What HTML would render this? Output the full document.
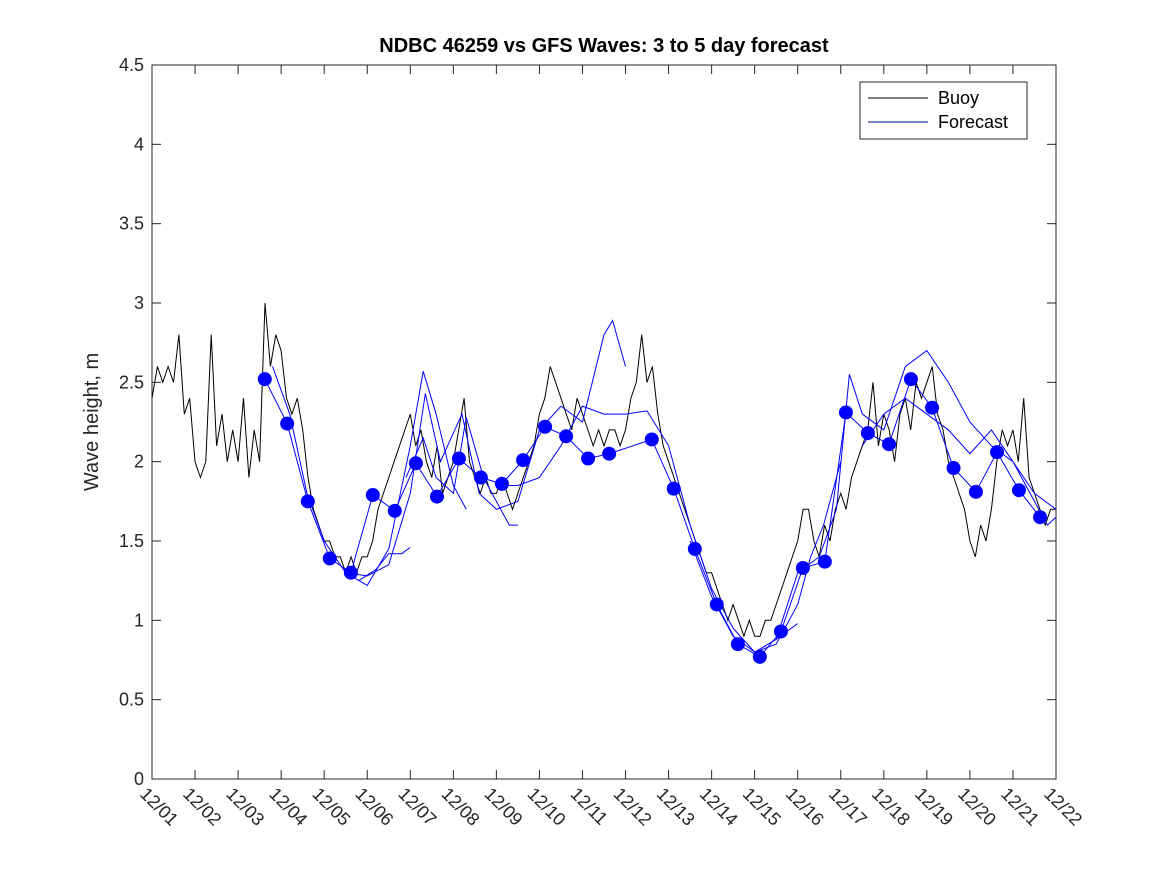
<!DOCTYPE html>
<html><head><meta charset="utf-8"><style>
body{margin:0;background:#fff;width:1167px;height:875px;overflow:hidden;font-family:"Liberation Sans",sans-serif}
svg{display:block}
</style></head><body>
<svg id="c" width="1167" height="875"></svg>
<script>
const dayLabels=["12/01","12/02","12/03","12/04","12/05","12/06","12/07","12/08","12/09","12/10","12/11","12/12","12/13","12/14","12/15","12/16","12/17","12/18","12/19","12/20","12/21","12/22"];
const yTicks=[0,0.5,1,1.5,2,2.5,3,3.5,4,4.5];
// buoy at 0.125-day (3h) steps, 169 values
const buoy=[
2.4,2.6,2.5,2.6,2.5,2.8,2.3,2.4,
2.0,1.9,2.0,2.8,2.1,2.3,2.0,2.2,
2.0,2.4,1.9,2.2,2.0,3.0,2.6,2.8,
2.7,2.4,2.3,2.4,2.2,1.9,1.7,1.6,
1.5,1.5,1.4,1.4,1.3,1.4,1.3,1.4,
1.4,1.5,1.7,1.8,1.9,2.0,2.1,2.2,
2.3,2.1,2.2,2.0,1.9,2.1,1.8,1.9,
2.0,2.2,2.4,2.0,1.9,1.8,1.9,1.8,
1.8,1.9,1.8,1.7,1.8,1.9,2.0,2.1,
2.3,2.4,2.6,2.5,2.4,2.3,2.2,2.4,
2.3,2.2,2.1,2.2,2.1,2.2,2.2,2.1,
2.2,2.4,2.5,2.8,2.5,2.6,2.3,2.1,
2.0,1.9,1.8,1.7,1.6,1.5,1.4,1.3,
1.3,1.2,1.1,1.0,1.1,1.0,0.9,1.0,
0.9,0.9,1.0,1.0,1.1,1.2,1.3,1.4,
1.5,1.7,1.7,1.5,1.4,1.6,1.5,1.7,
1.8,1.7,1.9,2.0,2.1,2.2,2.5,2.1,
2.3,2.2,2.0,2.3,2.4,2.2,2.5,2.4,
2.5,2.6,2.3,2.2,2.0,1.9,1.8,1.7,
1.5,1.4,1.6,1.5,1.7,2.0,2.2,2.1,
2.2,2.0,2.4,1.9,1.8,1.7,1.6,1.7,
1.7];
const dotDays=[2.62,3.14,3.62,4.13,4.62,5.13,5.64,6.13,6.62,7.13,7.64,8.13,8.62,9.13,9.62,10.13,10.62,11.61,12.12,12.61,13.12,13.61,14.12,14.61,15.12,15.63,16.12,16.63,17.12,17.63,18.12,18.62,19.14,19.63,20.14,20.63];
const dotVals=[2.52,2.24,1.75,1.39,1.30,1.79,1.69,1.99,1.78,2.02,1.90,1.86,2.01,2.22,2.16,2.02,2.05,2.14,1.83,1.45,1.10,0.85,0.77,0.93,1.33,1.37,2.31,2.18,2.11,2.52,2.34,1.96,1.81,2.06,1.82,1.65];
const runB=[[2.8,2.6],[3.2,2.3],[3.6,1.8],[4.0,1.5],[4.5,1.3],[5.0,1.22],[5.5,1.45],[6.0,2.1],[6.3,2.57],[6.6,2.3],[7.0,1.85],[7.3,1.7]];
const runC=[[4.5,1.3],[5.0,1.28],[5.5,1.35],[6.0,1.8],[6.35,2.43],[6.7,2.0],[7.2,2.3],[7.6,1.8],[8.0,1.7],[8.5,1.75],[9.0,2.2],[9.5,2.35],[10.0,2.25],[10.5,2.8],[10.7,2.89],[11.0,2.6]];
const runD=[[4.8,1.25],[5.2,1.32],[5.5,1.42],[5.8,1.42],[6.0,1.46]];
const runE=[[5.9,1.9],[6.3,2.15],[6.6,1.9],[7.0,1.8],[7.3,2.28],[7.7,1.9],[8.0,1.75],[8.3,1.6],[8.5,1.6]];
const runF=[[8.0,1.85],[8.5,1.85],[9.0,1.9],[9.5,2.1],[10.0,2.35],[10.5,2.3],[11.0,2.3],[11.5,2.32],[12.0,2.1],[12.5,1.6],[13,1.2],[13.5,0.95],[14,0.8],[14.5,0.85],[15.0,1.1],[15.3,1.4],[15.6,1.6],[16.0,2.0]];
const runG=[[12.5,1.5],[13,1.15],[13.5,0.9],[14,0.8],[14.5,0.88],[15,1.3],[15.5,1.4],[15.9,1.7],[16.2,2.55],[16.5,2.3],[17,2.2],[17.5,2.6],[18,2.7],[18.5,2.5],[19,2.25],[19.5,2.1],[20,2.0],[20.5,1.8],[21,1.7]];
const runH=[[14.5,0.88],[15,0.98]];
const runI=[[16.5,2.1],[17,2.3],[17.5,2.4],[18,2.3],[18.5,2.2],[19,2.05],[19.5,2.2],[20,2.0],[20.5,1.75],[20.8,1.6],[21,1.65]];
const runs=[runB,runC,runD,runE,runF,runG,runH,runI];

const L=152,R=1056,T=65,B=779;
const X=d=>L+d*(R-L)/21, Y=v=>B-v*(B-T)/4.5;
const svg=document.getElementById('c');const NS='http://www.w3.org/2000/svg';
function mk(t,a,p){const e=document.createElementNS(NS,t);for(const k in a)e.setAttribute(k,a[k]);(p||svg).appendChild(e);return e;}
const frame=mk('rect',{x:L,y:T,width:R-L,height:B-T,fill:'#fff',stroke:'#262626','stroke-width':1});


yTicks.forEach(v=>{
 mk('line',{x1:L,x2:L+9,y1:Y(v),y2:Y(v),stroke:'#262626'});
 mk('line',{x1:R,x2:R-9,y1:Y(v),y2:Y(v),stroke:'#262626'});
 const t=mk('text',{x:L-8,y:Y(v)+6,'text-anchor':'end','font-size':18,fill:'#262626'});t.textContent=String(v);
 
 
});
dayLabels.forEach((s,i)=>{
 const x=X(i);
 mk('line',{x1:x,x2:x,y1:B,y2:B-9,stroke:'#262626'});
 mk('line',{x1:x,x2:x,y1:T,y2:T+9,stroke:'#262626'});
 const t=mk('text',{x:0,y:0,transform:`translate(${x-13},${B+16}) rotate(45)`,'font-size':18,fill:'#262626'});t.textContent=s;
 
 
});
const bp=buoy.map((v,i)=>`${X(i*0.125).toFixed(1)},${Y(v).toFixed(1)}`).join(' ');
const bl=mk('polyline',{points:bp,fill:'none',stroke:'#000','stroke-width':1});


runs.forEach(r=>{
 const p=mk('polyline',{points:r.map(q=>`${X(q[0])},${Y(q[1])}`).join(' '),fill:'none',stroke:'#0000ff','stroke-width':1});
 
 
});
const fl=mk('polyline',{points:dotDays.map((d,i)=>`${X(d)},${Y(dotVals[i])}`).join(' '),fill:'none',stroke:'#0000ff','stroke-width':1});


dotDays.forEach((d,i)=>{
 const c=mk('circle',{cx:X(d),cy:Y(dotVals[i]),r:7,fill:'#0000ff'});
 
 
});
const title=mk('text',{x:604,y:52,'text-anchor':'middle','font-size':20,'font-weight':'bold',fill:'#000'});
title.textContent='NDBC 46259 vs GFS Waves: 3 to 5 day forecast';


const yt=mk('text',{x:0,y:0,transform:'translate(98,422) rotate(-90)','text-anchor':'middle','font-size':20,fill:'#262626'});
yt.textContent='Wave height, m';


const lg=mk('g',{});


mk('rect',{x:860,y:82,width:167,height:57,fill:'#fff',stroke:'#262626'},lg);
mk('line',{x1:868,x2:928,y1:98,y2:98,stroke:'#000'},lg);
mk('line',{x1:868,x2:928,y1:122,y2:122,stroke:'#00008b'},lg);
const t1=mk('text',{x:938,y:104,'font-size':18,fill:'#000'},lg);t1.textContent='Buoy';


const t2=mk('text',{x:938,y:128,'font-size':18,fill:'#000'},lg);t2.textContent='Forecast';


</script>
</body></html>
